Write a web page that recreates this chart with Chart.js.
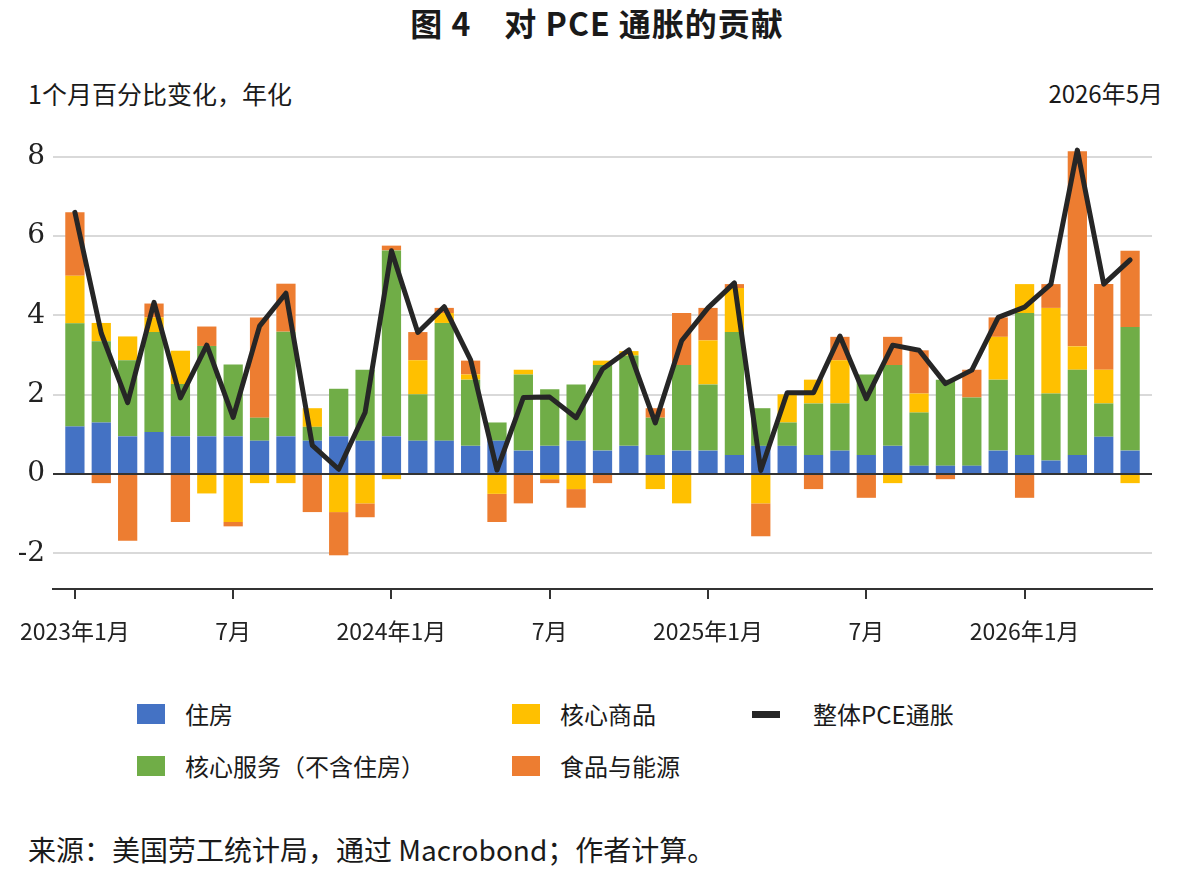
<!DOCTYPE html>
<html lang="zh-CN">
<head>
<meta charset="utf-8">
<title>对 PCE 通胀的贡献</title>
<script src="https://cdn.jsdelivr.net/npm/chart.js@4.4.1/dist/chart.umd.min.js"></script>
<style>
  html, body { margin: 0; padding: 0; background: #fff; }
  #page { position: relative; width: 1194px; height: 874px; overflow: hidden; font-family: "Noto Sans CJK SC", sans-serif; color: #1a1a1a; }
  #title { position: absolute; left: 0; top: 0; width: 1194px; text-align: center; font-size: 32px; font-weight: 700; line-height: 44px; letter-spacing: 1px; }
  #unit { position: absolute; left: 28px; top: 76px; font-size: 25px; line-height: 34px; }
  #date { position: absolute; right: 31px; top: 76px; font-size: 24px; line-height: 34px; }
  #wrap { position: absolute; left: 0; top: 0; width: 1194px; height: 660px; }
  .lg { position: absolute; display: flex; align-items: center; font-size: 24px; line-height: 30px; }
  .lg i { display: inline-block; width: 28px; height: 20px; margin-right: 20px; }
  .lg i.line { height: 7px; margin-right: 33px; }
  #source { position: absolute; left: 28px; top: 830px; font-size: 28px; line-height: 38px; }
</style>
</head>
<body>
<div id="page">
  <div id="title">图 4&nbsp;&nbsp;&nbsp;&nbsp;对 PCE 通胀的贡献</div>
  <div id="unit">1个月百分比变化，年化</div>
  <div id="date">2026年5月</div>
  <div id="wrap"><canvas id="pceChart"></canvas></div>
  <div id="legend"></div>
  <div id="source">来源：美国劳工统计局，通过 Macrobond；作者计算。</div>
</div>
<script>
  // 2023年1月 - 2026年5月, monthly
  const months = [
    "2023-01","2023-02","2023-03","2023-04","2023-05","2023-06","2023-07","2023-08","2023-09","2023-10","2023-11","2023-12",
    "2024-01","2024-02","2024-03","2024-04","2024-05","2024-06","2024-07","2024-08","2024-09","2024-10","2024-11","2024-12",
    "2025-01","2025-02","2025-03","2025-04","2025-05","2025-06","2025-07","2025-08","2025-09","2025-10","2025-11","2025-12",
    "2026-01","2026-02","2026-03","2026-04","2026-05"
  ];
  const tickIndex = [0, 6, 12, 18, 24, 30, 36];
  const tickLabels = ["2023年1月", "7月", "2024年1月", "7月", "2025年1月", "7月", "2026年1月"];
  const yTicks = [-2, 0, 2, 4, 6, 8];

  const housing = [1.2, 1.3, 0.95, 1.06, 0.95, 0.95, 0.95, 0.84, 0.95, 0.84, 0.95, 0.84,
    0.95, 0.84, 0.84, 0.71, 0.84, 0.59, 0.71, 0.84, 0.59, 0.71, 0.48, 0.59,
    0.59, 0.48, 0.71, 0.71, 0.48, 0.59, 0.48, 0.71, 0.21, 0.21, 0.21, 0.59,
    0.48, 0.34, 0.48, 0.94, 0.59];
  const coreServices = [2.6, 2.05, 1.92, 2.52, 1.32, 2.28, 1.81, 0.58, 2.64, 0.35, 1.2, 1.79,
    4.69, 1.17, 2.97, 1.67, 0.46, 1.92, 1.43, 1.42, 2.16, 2.28, 0.94, 2.16,
    1.67, 3.1, 0.95, 0.59, 1.3, 1.19, 2.03, 2.04, 1.34, 2.17, 1.72, 1.79,
    3.58, 1.69, 2.15, 0.84, 3.12];
  const coreGoods = [1.2, 0.46, 0.6, 0.37, 0.84, -0.49, -1.21, -0.23, -0.23, 0.47, -0.96, -0.74,
    -0.13, 0.86, 0.25, 0.13, -0.5, 0.12, -0.13, -0.38, 0.11, 0.11, -0.38, -0.74,
    1.11, 1.11, -0.74, 0.71, 0.6, 1.09, 0, -0.23, 0.48, 0, 0, 1.08,
    0.73, 2.16, 0.59, 0.85, -0.23];
  const foodEnergy = [1.6, -0.23, -1.68, 0.35, -1.21, 0.49, -0.11, 2.53, 1.21, -0.96, -1.09, -0.35,
    0.12, 0.71, 0.13, 0.35, -0.71, -0.74, -0.1, -0.47, -0.23, 0, 0.24, 1.31,
    0.82, 0.1, -0.83, 0, -0.38, 0.59, -0.6, 0.71, 1.09, -0.13, 0.7, 0.49,
    -0.6, 0.6, 4.92, 2.16, 1.92];
  const totalPce = [6.6, 3.55, 1.8, 4.33, 1.92, 3.25, 1.43, 3.73, 4.56, 0.72, 0.12, 1.55,
    5.63, 3.57, 4.22, 2.88, 0.1, 1.93, 1.94, 1.42, 2.65, 3.13, 1.29, 3.36,
    4.19, 4.82, 0.09, 2.05, 2.05, 3.48, 1.9, 3.25, 3.12, 2.28, 2.62, 3.95,
    4.21, 4.79, 8.17, 4.79, 5.4];

  const barSeries = [
    { label: "住房", values: housing, color: "#4472c4" },
    { label: "核心服务（不含住房）", values: coreServices, color: "#70ad47" },
    { label: "核心商品", values: coreGoods, color: "#ffc000" },
    { label: "食品与能源", values: foodEnergy, color: "#ed7d31" }
  ];
  const lineColor = "#262626";

  const points = values => values.map((y, i) => ({ x: i, y }));

  const datasets = barSeries.map(s => ({
    type: "bar",
    label: s.label,
    data: points(s.values),
    backgroundColor: s.color,
    borderWidth: 0,
    stack: "parts",
    order: 1,
    barPercentage: 0.73,
    categoryPercentage: 1
  }));
  datasets.push({
    type: "line",
    label: "整体PCE通胀",
    data: points(totalPce),
    borderColor: lineColor,
    borderWidth: 5,
    borderJoinStyle: "round",
    borderCapStyle: "round",
    pointRadius: 0,
    tension: 0,
    stack: "total",
    order: 0
  });

  new Chart(document.getElementById("pceChart"), {
    type: "bar",
    data: { datasets },
    options: {
      responsive: true,
      maintainAspectRatio: false,
      animation: false,
      layout: { padding: { top: 137, right: 42, left: 0, bottom: 0 } },
      plugins: { legend: { display: false }, tooltip: { enabled: false } },
      scales: {
        x: {
          type: "linear",
          stacked: true,
          offset: false,
          min: -0.83,
          max: months.length - 1 + 0.83,
          afterBuildTicks: scale => { scale.ticks = tickIndex.map(v => ({ value: v })); },
          afterFit: scale => { scale.height = 71; },
          ticks: {
            autoSkip: false,
            maxRotation: 0,
            padding: 18,
            color: "#222",
            font: { family: "Noto Sans CJK SC", size: 23 },
            callback: (value, index) => tickLabels[index]
          },
          grid: { offset: false, drawOnChartArea: false, drawTicks: true, tickLength: 10, color: "#333", lineWidth: 2 },
          border: { display: true, color: "#333", width: 2 }
        },
        y: {
          stacked: true,
          min: -2.9,
          max: 8.5,
          afterBuildTicks: scale => { scale.ticks = yTicks.map(v => ({ value: v })); },
          afterFit: scale => { scale.width = 53; },
          ticks: {
            padding: 8,
            color: "#222",
            font: { family: "DejaVu Serif", size: 28 },
            callback: value => String(value)
          },
          grid: {
            drawTicks: false,
            color: ctx => ctx.tick && ctx.tick.value === 0 ? "#333" : "#d9d9d9",
            lineWidth: 2
          },
          border: { display: false }
        }
      }
    }
  });

  // legend laid out in two rows like the original
  const legendSlots = [
    { left: 137, top: 699 }, { left: 137, top: 751 }, { left: 512, top: 699 }, { left: 512, top: 751 }
  ];
  const legend = document.getElementById("legend");
  legend.innerHTML = barSeries.map((s, i) =>
    `<div class="lg" style="left:${legendSlots[i].left}px;top:${legendSlots[i].top}px;"><i style="background:${s.color};"></i><span>${s.label}</span></div>`
  ).join("") +
    `<div class="lg" style="left:752px;top:699px;"><i class="line" style="background:${lineColor};"></i><span>整体PCE通胀</span></div>`;
</script>
</body>
</html>
